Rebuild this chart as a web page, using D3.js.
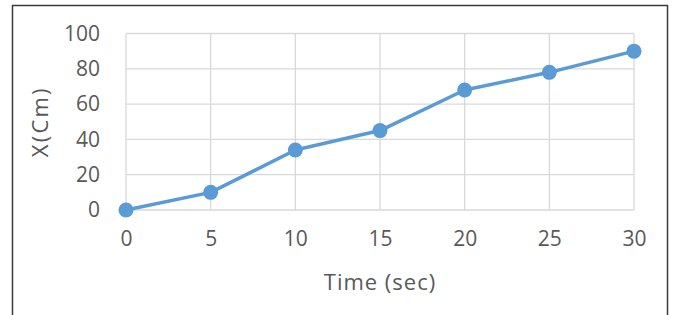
<!DOCTYPE html>
<html>
<head>
<meta charset="utf-8">
<script src="https://cdn.jsdelivr.net/npm/d3@7"></script>
<style>
  body { margin: 0; background: #fff; }
  text { font-family: "Open Sans", sans-serif; fill: #595959; }
</style>
</head>
<body>
<div id="chart"></div>
<script>
// data
const times = [0, 5, 10, 15, 20, 25, 30];
const positions = [0, 10, 34, 45, 68, 78, 90];
const xTicks = [0, 5, 10, 15, 20, 25, 30];
const yTicks = [0, 20, 40, 60, 80, 100];

const width = 673;
const height = 315;
const margin = { top: 33.5, right: 39, bottom: 105, left: 126 };
const font = "'Open Sans', sans-serif";

const svg = d3.select("#chart")
  .append("svg")
  .attr("width", width)
  .attr("height", height);

// outer frame
svg.append("rect")
  .attr("x", 12.5)
  .attr("y", 5.5)
  .attr("width", 655)
  .attr("height", 320)
  .attr("fill", "none")
  .attr("stroke", "#3a3a3a")
  .attr("stroke-width", 1.5);

const x = d3.scaleLinear()
  .domain([0, 30])
  .range([margin.left, width - margin.right]);

const y = d3.scaleLinear()
  .domain([0, 100])
  .range([height - margin.bottom, margin.top]);

// grid lines
svg.append("g")
  .attr("stroke", "#d9d9d9")
  .attr("stroke-width", 1.3)
  .selectAll("line")
  .data(yTicks)
  .join("line")
  .attr("x1", x(0))
  .attr("x2", x(30))
  .attr("y1", d => y(d))
  .attr("y2", d => y(d));

svg.append("g")
  .attr("stroke", "#d9d9d9")
  .attr("stroke-width", 1.3)
  .selectAll("line")
  .data(xTicks)
  .join("line")
  .attr("x1", d => x(d))
  .attr("x2", d => x(d))
  .attr("y1", y(0))
  .attr("y2", y(100));

// axes (labels only, excel style)
const yAxis = svg.append("g")
  .attr("transform", `translate(${margin.left - 26},0)`)
  .call(d3.axisLeft(y).tickValues(yTicks).tickSize(0).tickPadding(0));
yAxis.select(".domain").remove();
yAxis.selectAll("text").attr("font-size", 21).attr("fill", "#595959").style("font-family", font);

const xAxis = svg.append("g")
  .attr("transform", `translate(0,${y(0) + 21})`)
  .call(d3.axisBottom(x).tickValues(xTicks).tickSize(0).tickPadding(0));
xAxis.select(".domain").remove();
xAxis.selectAll("text").attr("font-size", 21).attr("fill", "#595959").style("font-family", font);

// axis titles
svg.append("text")
  .attr("x", (x(0) + x(30)) / 2)
  .attr("y", 290)
  .attr("text-anchor", "middle")
  .attr("font-size", 22)
  .attr("letter-spacing", 1)
  .text("Time (sec)");

svg.append("text")
  .attr("transform", `translate(48,${(y(0) + y(100)) / 2}) rotate(-90)`)
  .attr("text-anchor", "middle")
  .attr("font-size", 22)
  .attr("letter-spacing", 2.2)
  .text("X(Cm)");

// series
const data = times.map((t, i) => ({ t, v: positions[i] }));

svg.append("path")
  .datum(data)
  .attr("fill", "none")
  .attr("stroke", "#5b9bd5")
  .attr("stroke-width", 3.5)
  .attr("stroke-linejoin", "round")
  .attr("d", d3.line().x(d => x(d.t)).y(d => y(d.v)));

svg.append("g")
  .attr("fill", "#5b9bd5")
  .selectAll("circle")
  .data(data)
  .join("circle")
  .attr("cx", d => x(d.t))
  .attr("cy", d => y(d.v))
  .attr("r", 7.5);
</script>
</body>
</html>
